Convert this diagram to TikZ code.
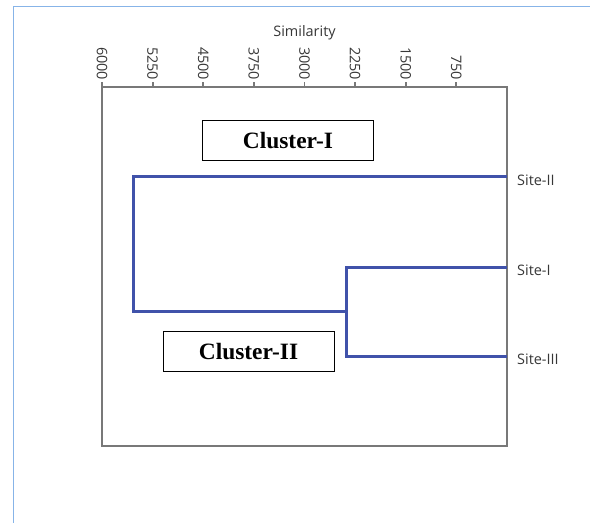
\documentclass[tikz,border=0pt]{standalone}
\usepackage{fontspec}
\setmainfont{Open Sans}
\newfontfamily\clusterfont{Liberation Serif}
\definecolor{dendroblue}{RGB}{64,82,170}
\definecolor{boxgray}{RGB}{120,120,120}
\definecolor{frameblue}{RGB}{135,180,232}
\definecolor{labelgray}{RGB}{55,55,55}
\begin{document}
\begin{tikzpicture}[x=1bp,y=-1bp]
            \tikzset{
                dendro/.style={draw=dendroblue, line width=3bp},
                axisline/.style={draw=boxgray, line width=1.8bp},
                sitelabel/.style={anchor=west, inner sep=0pt, text=labelgray, font=\fontsize{14.5}{17}\selectfont},
                ticklabel/.style={rotate=-90, anchor=east, inner sep=1pt, text=labelgray, font=\fontsize{14.5}{17}\selectfont},
                clusterbox/.style={draw, line width=1bp, minimum width=171bp, minimum height=40bp, font=\clusterfont\bfseries\fontsize{23.5}{26}\selectfont},}
            \useasboundingbox (0,0) rectangle (590,523);
            \draw [frameblue, line width=1.5bp] (13.5,523) -- (13.5,6.5) -- (590,6.5);
            % similarity axis: 6000 on the left edge, 0 on the right edge
            \def\xof#1{507-0.0675*#1}
            \draw [axisline] (102,87) rectangle (507,446);
            \foreach \v in {6000,5250,...,750}{
                \draw [axisline] ({\xof{\v}},87) -- ({\xof{\v}},82) node [ticklabel] (t\v) {\v};
            }
            \node [anchor=base, inner sep=0pt, text=labelgray, font=\fontsize{14.5}{17}\selectfont] (simtitle) at (304.5,37) {Similarity};
            \coordinate (leafII) at (507,177);
            \coordinate (leafI) at (507,267);
            \coordinate (leafIII) at (507,356);
            \node [sitelabel] (siteII) at (517,180) {Site-II};
            \node [sitelabel] (siteI) at (517,270) {Site-I};
            \node [sitelabel] (siteIII) at (517,359) {Site-III};
            \coordinate (mergeA) at ({\xof{2385}},311.5);
            \coordinate (mergeB) at ({\xof{5526}},244.25);
            \draw [dendro] (leafI) -| (mergeA) |- (leafIII);
            \draw [dendro] (mergeA) -| (mergeB) |- (leafII);
            \node [clusterbox] (clusterI) at (288,141) {Cluster-I};
            \node [clusterbox] (clusterII) at (248.5,351.5) {Cluster-II};
            % \node [clusterbox] at (288,250) {Cluster-III};
\end{tikzpicture}
\end{document}
